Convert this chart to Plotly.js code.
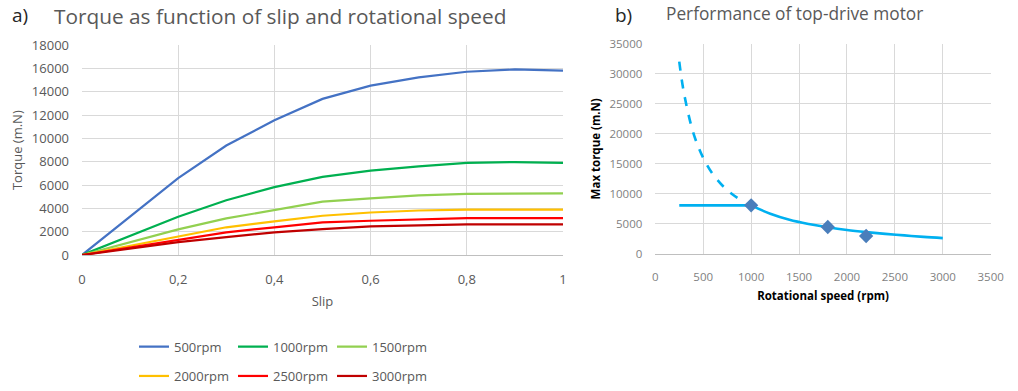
<!DOCTYPE html>
<html><head><meta charset="utf-8">
<script src="https://cdn.plot.ly/plotly-3.0.1.min.js"></script>
<style>html,body{margin:0;padding:0;background:#fff}#chart{width:1018px;height:391px}</style>
</head><body><div id="chart"></div>
<script>
// Panel a) torque vs slip
const slip = [0, 0.1, 0.2, 0.3, 0.4, 0.5, 0.6, 0.7, 0.8, 0.9, 1];
const seriesNames = ["500rpm", "1000rpm", "1500rpm", "2000rpm", "2500rpm", "3000rpm"];
const t500  = [0, 3300, 6600, 9400, 11570, 13400, 14540, 15250, 15730, 15930, 15820];
const t1000 = [0, 1650, 3280, 4700, 5830, 6700, 7240, 7610, 7900, 7980, 7900];
const t1500 = [0, 1100, 2200, 3140, 3850, 4580, 4860, 5120, 5240, 5290, 5290];
const t2000 = [0, 800, 1590, 2380, 2890, 3370, 3650, 3820, 3900, 3900, 3900];
const t2500 = [0, 660, 1330, 1950, 2380, 2800, 2940, 3080, 3170, 3170, 3170];
const t3000 = [0, 550, 1100, 1530, 1950, 2230, 2460, 2550, 2630, 2630, 2630];
const seriesColors = ["#4472c4", "#00b050", "#92d050", "#ffc000", "#ff0000", "#c00000"];

// Panel b) performance of top-drive motor
const dashSpeed  = [250, 300, 400, 500, 600, 700, 800, 900];
const dashTorque = [32000, 26700, 20000, 16000, 13300, 11400, 10000, 8900];
const flatSpeed  = [250, 1000];
const flatTorque = [8100, 8100];
const curveSpeed  = [1000, 1200, 1400, 1600, 1800, 2000, 2200, 2400, 2600, 2800, 3000];
const curveTorque = [8100, 6700, 5700, 5000, 4450, 4000, 3650, 3350, 3100, 2850, 2650];
const ptSpeed  = [1000, 1800, 2200];
const ptTorque = [8100, 4500, 3000];

const allT = [t500, t1000, t1500, t2000, t2500, t3000];
const traces = allT.map((ys, i) => ({
  type: "scatter", mode: "lines", x: slip, y: ys, name: seriesNames[i],
  line: {color: seriesColors[i], width: 2.2},
  xaxis: "x", yaxis: "y",
  legend: i < 3 ? "legend" : "legend2"
}));
traces.push({type: "scatter", mode: "lines", x: dashSpeed, y: dashTorque, showlegend: false,
  line: {color: "#00b0f0", width: 2.6, dash: "dash", shape: "spline"}, xaxis: "x2", yaxis: "y2"});
traces.push({type: "scatter", mode: "lines", x: flatSpeed, y: flatTorque, showlegend: false,
  line: {color: "#00b0f0", width: 2.6}, xaxis: "x2", yaxis: "y2"});
traces.push({type: "scatter", mode: "lines", x: curveSpeed, y: curveTorque, showlegend: false,
  line: {color: "#00b0f0", width: 2.6, shape: "spline"}, xaxis: "x2", yaxis: "y2"});
traces.push({type: "scatter", mode: "markers", x: ptSpeed, y: ptTorque, showlegend: false,
  marker: {symbol: "diamond", color: "#4a7ebb", size: 11}, xaxis: "x2", yaxis: "y2"});

const tickFont = {family: "Open Sans, sans-serif", size: 13, color: "#595959"};
const smallFont = {family: "Open Sans, sans-serif", size: 11.5, color: "#7f7f7f"};
const boldFont = {family: "Open Sans, sans-serif", size: 11.5, color: "#000"};
const grid = "#d9d9d9";

const layout = {
  width: 1018, height: 391,
  margin: {l: 0, r: 0, t: 0, b: 0},
  paper_bgcolor: "#fff", plot_bgcolor: "#fff",
  separators: ", ",
  showlegend: true,
  xaxis: {domain: [82/1018, 563/1018], range: [0, 1], dtick: 0.2, tick0: 0,
    showgrid: true, gridcolor: grid, zeroline: false, showline: true, linecolor: "#bfbfbf",
    ticks: "", tickfont: tickFont, ticklabelstandoff: 12,
    title: {text: "Slip", font: tickFont, standoff: 10}, fixedrange: true},
  yaxis: {domain: [(391-259)/391, (391-46)/391], range: [0, 18000], dtick: 2000,
    tickformat: "d", showgrid: true, gridcolor: grid, zeroline: false, showline: false,
    ticks: "", tickfont: tickFont, ticklabelstandoff: 12,
    title: {text: "Torque (m.N)", font: tickFont, standoff: 6}},
  xaxis2: {domain: [655.3/1018, 990.7/1018], range: [0, 3500], dtick: 500, tick0: 0,
    anchor: "y2", showgrid: true, gridcolor: grid, zeroline: false, showline: true, linecolor: "#bfbfbf",
    ticks: "", tickfont: smallFont, ticklabelstandoff: 12,
    title: {text: "<b>Rotational speed (rpm)</b>", font: boldFont, standoff: 9}},
  yaxis2: {domain: [(391-258)/391, (391-44.3)/391], range: [0, 35000], dtick: 5000,
    anchor: "x2", tickformat: "d", showgrid: true, gridcolor: grid, zeroline: false, showline: false,
    ticks: "", tickfont: smallFont, ticklabelstandoff: 12,
    title: {text: "<b>Max torque (m.N)</b>", font: boldFont, standoff: 6}},
  legend: {orientation: "h", x: 134/1018, xanchor: "left", y: (391-352)/391, yanchor: "middle",
    entrywidth: 54, entrywidthmode: "pixels", font: tickFont, bgcolor: "rgba(0,0,0,0)", itemwidth: 30},
  legend2: {orientation: "h", x: 134/1018, xanchor: "left", y: (391-382)/391, yanchor: "middle",
    entrywidth: 54, entrywidthmode: "pixels", font: tickFont, bgcolor: "rgba(0,0,0,0)", itemwidth: 30},
  annotations: [
    {text: "a)", xref: "paper", yref: "paper", x: 10/1018, y: 1, xanchor: "left", yanchor: "top",
      showarrow: false, font: {family: "Open Sans, sans-serif", size: 19, color: "#262626"}},
    {text: "Torque as function of slip and rotational speed", xref: "paper", yref: "paper", x: 52/1018, y: 1,
      xanchor: "left", yanchor: "top", showarrow: false, font: {family: "Open Sans, sans-serif", size: 20.8, color: "#595959"}},
    {text: "b)", xref: "paper", yref: "paper", x: 613/1018, y: 1, xanchor: "left", yanchor: "top",
      showarrow: false, font: {family: "Open Sans, sans-serif", size: 19, color: "#262626"}},
    {text: "Performance of top-drive motor", xref: "paper", yref: "paper", x: 664/1018, y: 1,
      xanchor: "left", yanchor: "top", showarrow: false, font: {family: "Open Sans, sans-serif", size: 17.3, color: "#595959"}}
  ]
};

Plotly.newPlot("chart", traces, layout, {displayModeBar: false, staticPlot: true});
</script></body></html>
